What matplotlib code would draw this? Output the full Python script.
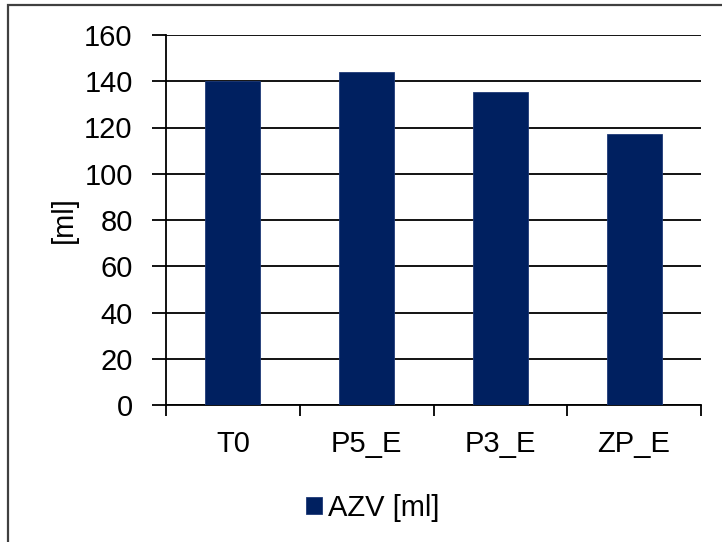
import matplotlib
matplotlib.use("Agg")
import matplotlib.pyplot as plt
from matplotlib.patches import Rectangle
import numpy as np

categories = ["T0", "P5_E", "P3_E", "ZP_E"]
values = [140, 144, 135.4, 117]
series_name = "AZV [ml]"
y_label = "[ml]"
y_ticks = [0, 20, 40, 60, 80, 100, 120, 140, 160]

plt.rcParams['font.family'] = ['Liberation Sans', 'DejaVu Sans']
FS = 21
bar_color = "#002060"

W, H = 722, 542
fig = plt.figure(figsize=(W / 100, H / 100), dpi=100)
fig.patch.set_facecolor("white")

# outer chart border (right/bottom extend beyond the image)
fig.patches.append(Rectangle((8 / W, -0.05), 1.1, 1 - 5 / H + 0.05,
                             transform=fig.transFigure, fill=False,
                             edgecolor="#404040", linewidth=1.6, zorder=0))

ax = fig.add_axes([166 / W, 1 - 405 / H, (701 - 166) / W, (405 - 35) / H])
x = np.arange(len(categories))
bars = ax.bar(x, values, width=0.41, color=bar_color, edgecolor="#1f3a78",
              linewidth=0.6, zorder=3, label=series_name)

ax.set_xlim(-0.5, len(categories) - 0.5)
ax.set_ylim(0, 160)
ax.set_yticks(y_ticks)
ax.set_yticklabels([str(v) for v in y_ticks], fontsize=FS)
ax.yaxis.grid(True, color="black", linewidth=1.3, zorder=0)
ax.set_axisbelow(True)

ax.set_xticks(x)
ax.set_xticklabels(categories, fontsize=FS)
ax.tick_params(axis="x", which="major", length=0, pad=18)
ax.set_xticks(np.arange(-0.5, len(categories)), minor=True)
ax.tick_params(axis="x", which="minor", length=8, width=1.3, color="black")
ax.tick_params(axis="y", which="major", length=10, width=1.3, pad=14, color="black")

for s in ["top", "right"]:
    ax.spines[s].set_visible(False)
for s in ["left", "bottom"]:
    ax.spines[s].set_linewidth(1.3)
    ax.spines[s].set_color("black")

ax.set_ylabel(y_label, fontsize=FS, labelpad=0)
ax.yaxis.set_label_coords((78 - 166) / (701 - 166), 0.5)

leg = fig.legend(handles=[bars], labels=[series_name], loc="center",
                 bbox_to_anchor=(373 / W, 1 - 508 / H), frameon=False,
                 fontsize=FS, handlelength=0.55, handleheight=0.55,
                 handletextpad=0.2, borderpad=0)

fig.savefig("out.png", dpi=100)
